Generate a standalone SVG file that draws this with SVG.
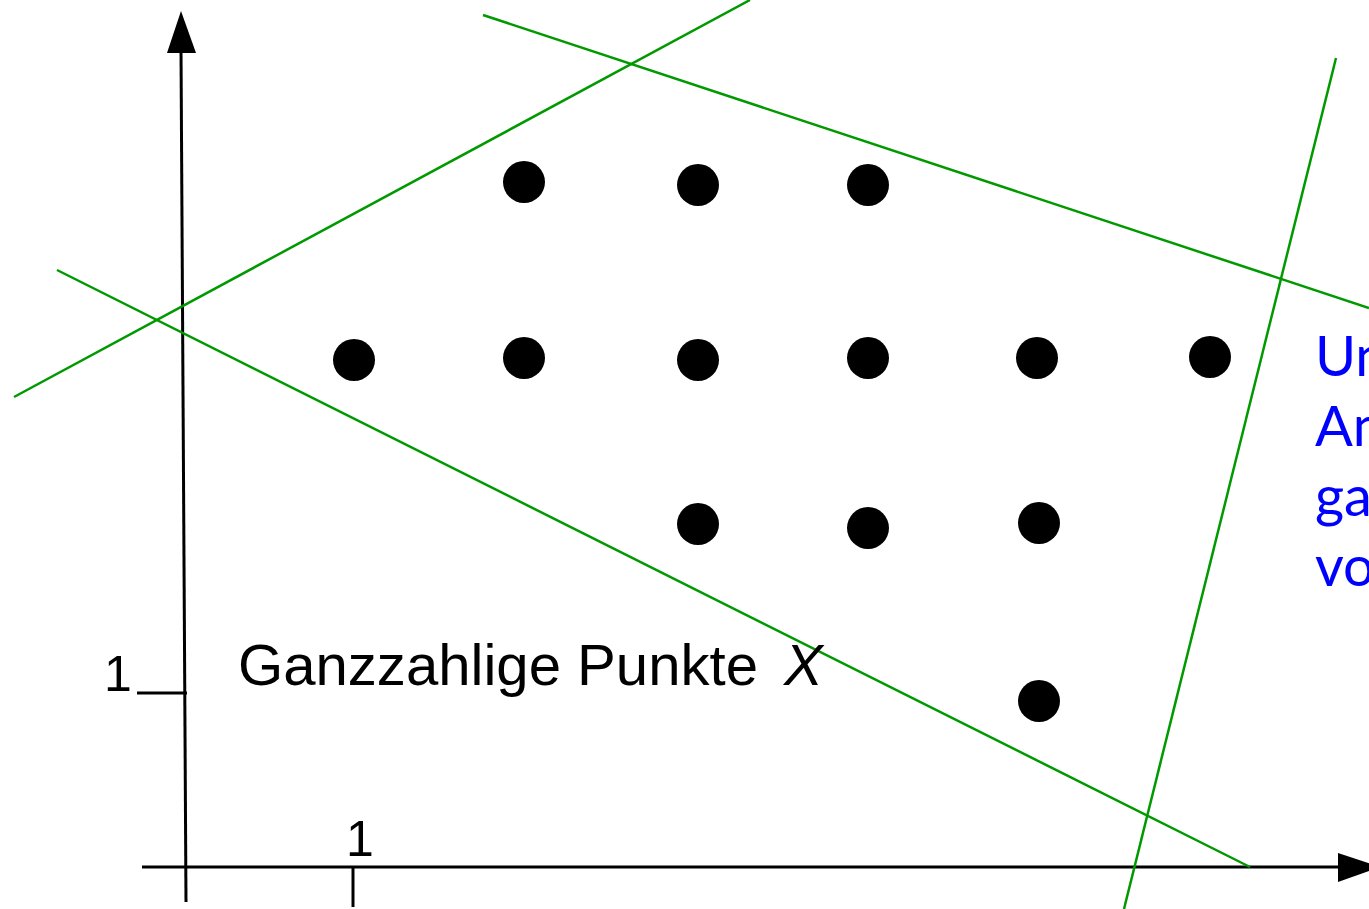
<svg xmlns="http://www.w3.org/2000/svg" width="1369" height="909" viewBox="0 0 1369 909">
<style>
.ax{stroke:#000;stroke-width:3;fill:none}
.gr{stroke:#009900;stroke-width:2.5;fill:none}
.dot{fill:#000}
.lbl{font-family:"Liberation Sans","DejaVu Sans",sans-serif;fill:#000}
.blue{font-family:Lato,"Liberation Sans",sans-serif;fill:#0000ff;font-size:56px}
</style>
<rect width="1369" height="909" fill="#fff"/>
<g id="axes">
<line class="ax" x1="186" y1="902" x2="181" y2="50"/>
<polygon points="181,11 167,53 196,53" fill="#000"/>
<line class="ax" x1="142" y1="867" x2="1340" y2="867"/>
<polygon points="1380,867 1338,853 1338,882" fill="#000"/>
<line class="ax" x1="353" y1="867" x2="353" y2="907"/>
<line class="ax" x1="137" y1="693" x2="187" y2="693"/>
<text class="lbl" x="360" y="856" font-size="50" text-anchor="middle">1</text>
<text class="lbl" x="118" y="691" font-size="50" text-anchor="middle">1</text>
</g>
<g id="lines">
<line class="gr" x1="14" y1="397" x2="750" y2="0"/>
<line class="gr" x1="483" y1="15" x2="1369" y2="308"/>
<line class="gr" x1="57" y1="270" x2="1250" y2="867"/>
<line class="gr" x1="1336" y1="58" x2="1124" y2="909"/>
</g>
<g id="points">
<circle class="dot" cx="524" cy="182" r="21"/>
<circle class="dot" cx="698" cy="185" r="21"/>
<circle class="dot" cx="868" cy="185" r="21"/>
<circle class="dot" cx="354" cy="360" r="21"/>
<circle class="dot" cx="524" cy="358" r="21"/>
<circle class="dot" cx="698" cy="360" r="21"/>
<circle class="dot" cx="868" cy="358" r="21"/>
<circle class="dot" cx="1037" cy="358" r="21"/>
<circle class="dot" cx="1210" cy="357" r="21"/>
<circle class="dot" cx="698" cy="524" r="21"/>
<circle class="dot" cx="868" cy="528" r="21"/>
<circle class="dot" cx="1039" cy="523" r="21"/>
<circle class="dot" cx="1039" cy="701" r="21"/>
</g>
<g id="label-x">
<text class="lbl" x="238" y="685" font-size="58" textLength="520" lengthAdjust="spacingAndGlyphs">Ganzzahlige Punkte</text>
<text class="lbl" x="784" y="685" font-size="58" font-style="italic">X</text>
</g>
<g id="label-blue">
<text class="blue" x="1315" y="376">Un</text>
<text class="blue" x="1315" y="446">An</text>
<text class="blue" x="1315" y="516">ga</text>
<text class="blue" x="1315" y="586">vo</text>
</g>
</svg>
